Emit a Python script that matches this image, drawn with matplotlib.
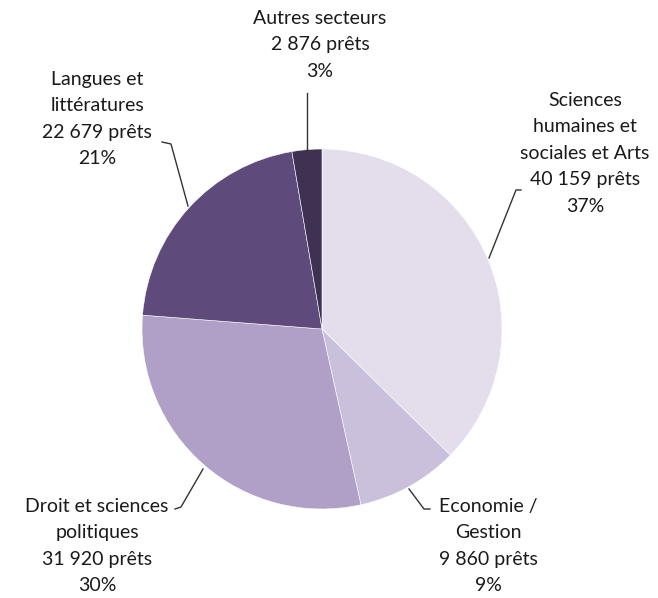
import matplotlib
matplotlib.use("Agg")
import matplotlib.pyplot as plt

labels = ["Sciences\nhumaines et\nsociales et Arts", "Economie /\nGestion",
          "Droit et sciences\npolitiques", "Langues et\nlittératures", "Autres secteurs"]
prets = [40159, 9860, 31920, 22679, 2876]
pcts = ["37%", "9%", "30%", "21%", "3%"]
colors = ["#E4DEEC", "#CBC0DC", "#B09FC7", "#5F4A7C", "#3E3152"]

W, H = 658, 598
plt.rcParams["font.family"] = ["Lato", "DejaVu Sans"]

fig = plt.figure(figsize=(W / 100, H / 100), dpi=100)
ax = fig.add_axes([0, 0, 1, 1])

cx, cy, r = 322, H - 329, 180
ax.pie(prets, colors=colors, startangle=90, counterclock=False, center=(cx, cy),
       radius=r, wedgeprops=dict(linewidth=0.4, edgecolor="#ffffff"), frame=True)
ax.set_xlim(0, W)
ax.set_ylim(0, H)
ax.set_aspect("equal")
ax.axis("off")


def fmt(v):
    return f"{v:,}".replace(",", " ")


# label text: (x, y top) in pixel coordinates, leader polyline in pixel coords
text_pos = [(585, 92), (488, 498), (97, 498), (97, 71), (320, 10)]
leaders = [
    [(521, 190), (516, 190), (489, 258)],
    [(430, 509), (424, 509), (409, 489)],
    [(175, 509), (181, 507), (203, 469)],
    [(162, 142), (171, 144), (188, 206)],
    [(307, 93), (307, 150)],
]

for lab, v, p, (tx, ty), pts in zip(labels, prets, pcts, text_pos, leaders):
    ax.text(tx, H - ty, f"{lab}\n{fmt(v)} prêts\n{p}", ha="center", va="top",
            fontsize=14, color="#1a1a1a", linespacing=1.67)
    ax.plot([q[0] for q in pts], [H - q[1] for q in pts], color="#333333", linewidth=1.0)

fig.savefig("out.png", dpi=100)
